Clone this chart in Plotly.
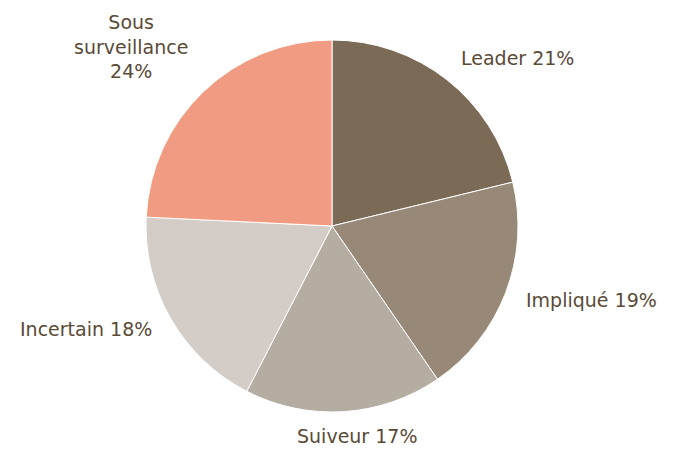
import math
import plotly.graph_objects as go

labels = ["Leader", "Impliqué", "Suiveur", "Incertain", "Sous surveillance"]
display_labels = ["Leader 21%", "Impliqué 19%", "Suiveur 17%", "Incertain 18%", "Sous<br>surveillance<br>24%"]
values = [21, 19, 17, 18, 24]
colors = ["#7a6a56", "#978877", "#b5ada2", "#d4ccc6", "#f19c82"]

W, H = 674, 450
PIE_D = 372  # pie diameter in px
L_M, T_M = 138, 32
R_M = W - L_M - PIE_D
B_M = H - T_M - PIE_D
LABEL_R = 206 / PIE_D  # label anchor distance in paper units
label_xshift = [0, 0, 12, 0, 0]

fig = go.Figure(go.Pie(
    labels=labels,
    values=values,
    textinfo="none",
    sort=False,
    direction="clockwise",
    rotation=0,
    marker=dict(colors=colors, line=dict(color="white", width=1)),
    showlegend=False,
    hoverinfo="skip",
))

total = sum(values)
cum = 0
annotations = []
for txt, v, xs in zip(display_labels, values, label_xshift):
    theta = (cum + v / 2) / total * 2 * math.pi
    cum += v
    dx, dy = math.sin(theta), math.cos(theta)
    xa = "left" if dx > 0.2 else ("right" if dx < -0.2 else "center")
    if dy > 0.6:
        ya, ys = "bottom", -7
    elif dy < -0.6:
        ya, ys = "top", 9
    else:
        ya, ys = "middle", 0
    annotations.append(dict(
        x=0.5 + LABEL_R * dx, y=0.5 + LABEL_R * dy,
        xref="paper", yref="paper", text=txt, showarrow=False,
        xanchor=xa, yanchor=ya, align="center", xshift=xs, yshift=ys,
        font=dict(family="DejaVu Sans", size=19, color="#5a4a36"),
    ))

fig.update_layout(
    width=W, height=H,
    margin=dict(l=L_M, r=R_M, t=T_M, b=B_M),
    paper_bgcolor="white",
    plot_bgcolor="white",
    annotations=annotations,
)

fig.write_html("out.html")
